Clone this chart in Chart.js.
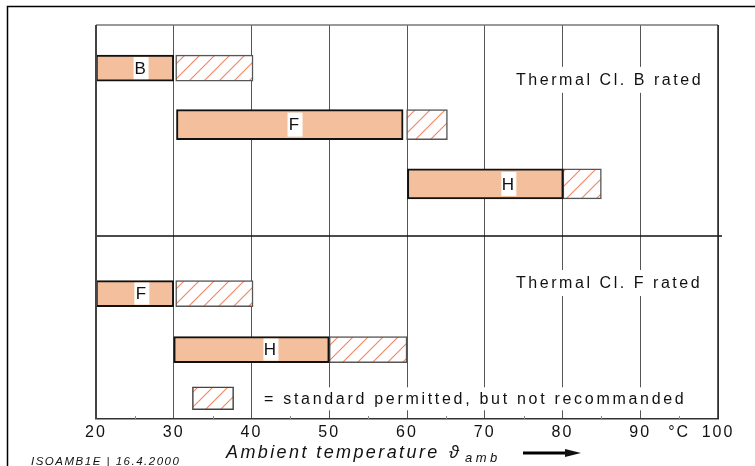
<!DOCTYPE html>
<html>
<head>
<meta charset="utf-8">
<script src="https://cdn.jsdelivr.net/npm/chart.js@4"></script>
<style>
  html, body { margin: 0; padding: 0; background: #fff; }
  canvas { display: block; }
</style>
</head>
<body>
<canvas id="chart" width="755" height="466"></canvas>
<script>
'use strict';

// rows of the diagram (top block: Thermal Cl. B rated, bottom block: Thermal Cl. F rated)
const rowLetters = ['B', 'F', 'H', 'F', 'H'];
const rowPos = [0.77, 1.78, 2.84, 4.80, 5.80];
const rowThickness = [26, 30, 30, 26, 26];
const ratedFrom = [20, 30.35, 60.05, 20, 30];
const ratedTo = [30, 59.5, 80.1, 30, 50];
const hatchFrom = [30.25, 59.95, 80.05, 30.25, 50];
const hatchTo = [40.2, 65.2, 85, 40.2, 60];
const letterAt = [25.8, 45.6, 73.1, 25.9, 42.5];

const legendKey = [32.4, 37.7];
const legendRow = 6.67;
const dividerRow = 3.77;

const sectionLabels = ['Thermal Cl. B rated', 'Thermal Cl. F rated'];
const sectionLabelRows = [0.98, 4.61];
const legendText = '= standard permitted, but not recommanded';

const xMin = 20;
const xMax = 100;
const yMax = 7.04;

const FONT = '"Liberation Sans", Arial, sans-serif';
const SOLID = '#f3bf9d';
const HATCH_LINE = '#f4845f';

const canvas = document.getElementById('chart');
const ctx = canvas.getContext('2d');

function makeHatch() {
  const tile = document.createElement('canvas');
  tile.width = 15;
  tile.height = 15;
  const g = tile.getContext('2d');
  g.fillStyle = '#fff';
  g.fillRect(0, 0, 15, 15);
  g.strokeStyle = HATCH_LINE;
  g.lineWidth = 1.1;
  g.beginPath();
  g.moveTo(0, 15); g.lineTo(15, 0);
  g.moveTo(-2, 2); g.lineTo(2, -2);
  g.moveTo(13, 17); g.lineTo(17, 13);
  g.stroke();
  return ctx.createPattern(tile, 'repeat');
}
const hatch = makeHatch();

const datasets = [];
rowLetters.forEach((letter, i) => {
  datasets.push({
    label: 'rated ' + letter,
    data: [{ x: [ratedFrom[i], ratedTo[i]], y: rowPos[i] }],
    backgroundColor: SOLID,
    borderColor: '#111',
    borderWidth: 2,
    borderSkipped: false,
    barThickness: rowThickness[i],
    grouped: false,
  });
  datasets.push({
    label: 'not recommended ' + letter,
    data: [{ x: [hatchFrom[i], hatchTo[i]], y: rowPos[i] }],
    backgroundColor: hatch,
    borderColor: '#555',
    borderWidth: 1.5,
    borderSkipped: false,
    barThickness: rowThickness[i],
    grouped: false,
  });
});
datasets.push({
  label: 'legend key',
  data: [{ x: legendKey, y: legendRow }],
  backgroundColor: hatch,
  borderColor: '#444',
  borderWidth: 1.5,
  borderSkipped: false,
  barThickness: 23,
  grouped: false,
});

function spacedText(c, text, x, y, font, spacing, align) {
  c.save();
  c.font = font;
  c.letterSpacing = spacing + 'px';
  c.textAlign = align || 'left';
  c.fillText(text, x, y);
  const w = c.measureText(text).width;
  c.restore();
  return w;
}

const overlay = {
  id: 'overlay',
  beforeDraw(chart) {
    chart.ctx.letterSpacing = '2px';
  },
  afterDatasetsDraw(chart) {
    const c = chart.ctx;
    const xs = chart.scales.x;
    const ys = chart.scales.y;
    const area = chart.chartArea;

    // divider between the two blocks
    const dy = ys.getPixelForValue(dividerRow);
    c.save();
    c.strokeStyle = '#111';
    c.lineWidth = 1.5;
    c.beginPath();
    c.moveTo(area.left, dy);
    c.lineTo(area.right + 4, dy);
    c.stroke();

    // letters on the rated bars, on white boxes
    c.font = '17px ' + FONT;
    c.textAlign = 'center';
    c.textBaseline = 'middle';
    rowLetters.forEach((letter, i) => {
      const px = xs.getPixelForValue(letterAt[i]);
      const py = ys.getPixelForValue(rowPos[i]);
      const h = Math.min(rowThickness[i] - 4, 24);
      c.fillStyle = '#fff';
      c.fillRect(px - 7.5, py - h / 2, 15, h);
      c.fillStyle = '#111';
      c.fillText(letter, px, py + 1);
    });

    // block titles, covering the grid lines
    c.textBaseline = 'middle';
    sectionLabels.forEach((text, i) => {
      const py = ys.getPixelForValue(sectionLabelRows[i]);
      c.fillStyle = '#fff';
      c.fillRect(510, py - 13, 198, 26);
      c.fillStyle = '#111';
      spacedText(c, text, 516, py + 1, '16px ' + FONT, 2.55, 'left');
    });

    // legend text
    const ly = ys.getPixelForValue(legendRow);
    c.fillStyle = '#fff';
    c.fillRect(258, ly - 11, 434, 23);
    c.fillStyle = '#111';
    spacedText(c, legendText, 264, ly + 1, '16px ' + FONT, 2.7, 'left');

    // small ticks at the half decades along the bottom
    c.strokeStyle = '#888';
    c.lineWidth = 1;
    for (let v = 25; v < xMax; v += 10) {
      const px = Math.round(xs.getPixelForValue(v)) + 0.5;
      c.beginPath();
      c.moveTo(px, area.bottom);
      c.lineTo(px, area.bottom - 3);
      c.stroke();
    }

    // plot frame
    c.lineWidth = 1.5;
    c.strokeStyle = '#777';
    c.beginPath();
    c.moveTo(area.left, area.top);
    c.lineTo(area.right, area.top);
    c.stroke();
    c.strokeStyle = '#222';
    c.beginPath();
    c.moveTo(area.right, area.top);
    c.lineTo(area.right, area.bottom);
    c.stroke();
    c.strokeStyle = '#444';
    c.lineWidth = 2;
    c.beginPath();
    c.moveTo(area.left, area.top);
    c.lineTo(area.left, area.bottom);
    c.stroke();
    c.restore();
  },
  afterDraw(chart) {
    const c = chart.ctx;
    c.save();
    c.textBaseline = 'alphabetic';
    c.fillStyle = '#111';

    // page frame
    c.strokeStyle = '#000';
    c.lineWidth = 1.5;
    c.beginPath();
    c.moveTo(7.5, 466);
    c.lineTo(7.5, 6.5);
    c.lineTo(755, 6.5);
    c.stroke();

    // axis title with subscript
    spacedText(c, 'Ambient temperature', 226, 458, 'italic 18px ' + FONT, 2.4, 'left');
    spacedText(c, 'ϑ', 449, 458, 'italic 18px ' + FONT, 0, 'left');
    spacedText(c, 'amb', 465, 462, 'italic 13px ' + FONT, 3.5, 'left');

    // arrow
    c.strokeStyle = '#000';
    c.lineWidth = 3;
    c.beginPath();
    c.moveTo(523, 453);
    c.lineTo(568, 453);
    c.stroke();
    c.beginPath();
    c.moveTo(565, 449);
    c.lineTo(581, 453);
    c.lineTo(565, 457);
    c.closePath();
    c.fill();

    // drawing reference
    spacedText(c, 'ISOAMB1E | 16.4.2000', 31, 465, 'italic 11.5px ' + FONT, 1.5, 'left');
    c.restore();
  }
};

new Chart(ctx, {
  type: 'bar',
  data: { datasets: datasets },
  plugins: [overlay],
  options: {
    indexAxis: 'y',
    responsive: false,
    animation: false,
    devicePixelRatio: 1,
    layout: {
      padding: { top: 25, left: 96, right: 37, bottom: 0 }
    },
    plugins: {
      legend: { display: false },
      tooltip: { enabled: false },
    },
    scales: {
      x: {
        type: 'linear',
        position: 'bottom',
        min: xMin,
        max: xMax,
        afterFit: (scale) => { scale.height = 47; },
        ticks: {
          stepSize: 5,
          autoSkip: false,
          maxRotation: 0,
          padding: 4,
          color: '#111',
          font: { family: FONT, size: 16 },
          callback: (v) => {
            if (v % 10 === 0) return String(v);
            if (v === 95) return '°C';
            return '';
          },
        },
        grid: {
          drawTicks: false,
          lineWidth: 1,
          color: (c) => (c.tick && c.tick.value % 10 === 0) ? '#555' : 'rgba(0,0,0,0)',
        },
        border: {
          display: true,
          color: '#333',
          width: 1.5,
        },
      },
      y: {
        type: 'linear',
        min: 0,
        max: yMax,
        reverse: true,
        offset: false,
        display: false,
      }
    }
  }
});
</script>
</body>
</html>
